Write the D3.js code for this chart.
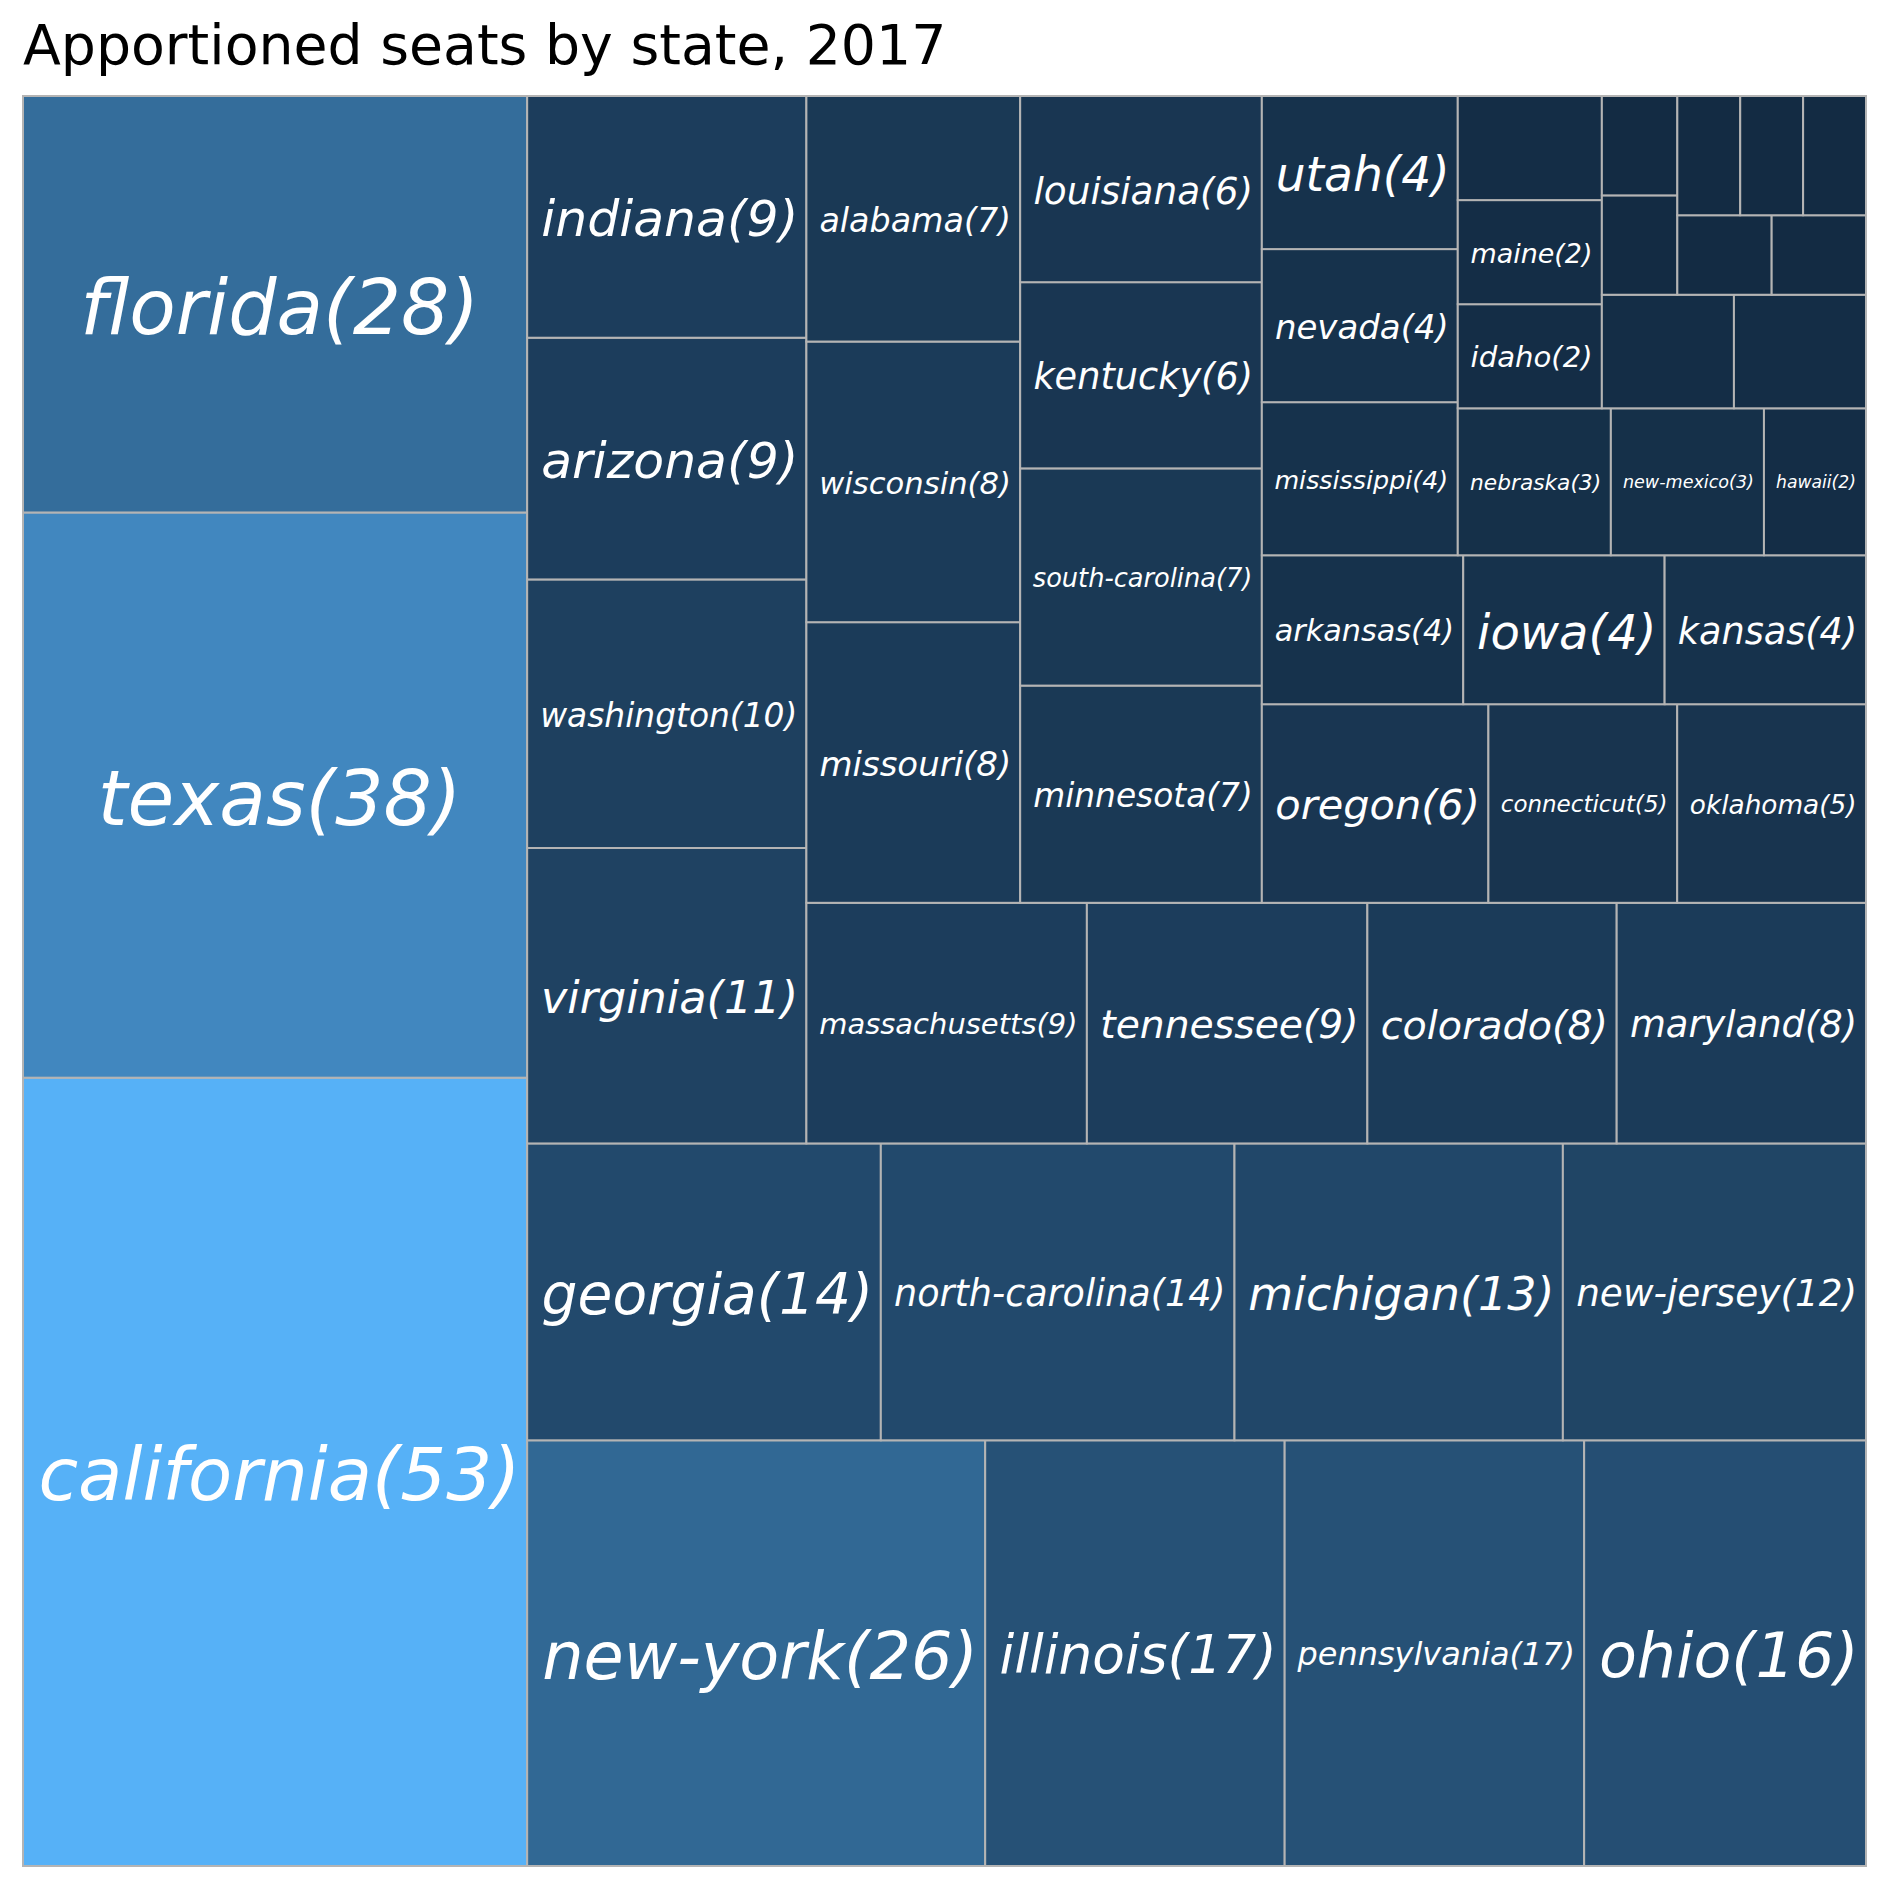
<!DOCTYPE html>
<html>
<head>
<meta charset="utf-8">
<script src="https://cdn.jsdelivr.net/npm/d3@7"></script>
<style>
  html, body { margin: 0; padding: 0; background: #ffffff; }
  svg { display: block; }
</style>
</head>
<body>
<script>
// ---------------- data ----------------
const title = "Apportioned seats by state, 2017";
const states = ["california","texas","florida","new-york","illinois","pennsylvania","ohio",
  "georgia","north-carolina","michigan","new-jersey","virginia","washington","arizona","indiana",
  "massachusetts","tennessee","colorado","maryland","missouri","wisconsin","alabama","minnesota",
  "south-carolina","kentucky","louisiana","oregon","connecticut","oklahoma","arkansas","iowa",
  "kansas","mississippi","nevada","utah","nebraska","new-mexico","hawaii","idaho","maine",
  "montana","new-hampshire","west-virginia","alaska","delaware","north-dakota","rhode-island",
  "south-dakota","vermont","wyoming"];
const seats = [53,38,28,26,17,17,16,14,14,13,12,11,10,9,9,9,9,8,8,8,8,7,7,7,6,6,6,5,5,
  4,4,4,4,4,4,3,3,2,2,2,2,2,2,1,1,1,1,1,1,1];
const labeledCount = 40; // only the first 40 rectangles carry a label

// ---------------- layout / style ----------------
const W = 1889, H = 1889;
const plot = { left: 23, right: 1866, top: 96, bottom: 1866 };
const maxFont = 76, textPad = 22;

const svg = d3.select("body").append("svg").attr("width", W).attr("height", H);

svg.append("text")
  .attr("x", 23).attr("y", 64)
  .attr("font-family", "DejaVu Sans")
  .attr("font-size", 55.3)
  .attr("fill", "#000")
  .text(title);

// squarify algorithm (same as python squarify) in a 100x100 data space
function layoutrow(sizes, x, y, dx, dy) {
  const covered = d3.sum(sizes), width = covered / dy; const rects = [];
  for (const s of sizes) { rects.push({x, y, dx: width, dy: s / width}); y += s / width; }
  return rects;
}
function layoutcol(sizes, x, y, dx, dy) {
  const covered = d3.sum(sizes), height = covered / dx; const rects = [];
  for (const s of sizes) { rects.push({x, y, dx: s / height, dy: height}); x += s / height; }
  return rects;
}
function layout(sizes, x, y, dx, dy) { return dx >= dy ? layoutrow(sizes, x, y, dx, dy) : layoutcol(sizes, x, y, dx, dy); }
function leftover(sizes, x, y, dx, dy) {
  const covered = d3.sum(sizes);
  if (dx >= dy) { const w = covered / dy; return [x + w, y, dx - w, dy]; }
  const h = covered / dx; return [x, y + h, dx, dy - h];
}
function worst(sizes, x, y, dx, dy) {
  return d3.max(layout(sizes, x, y, dx, dy), r => Math.max(r.dx / r.dy, r.dy / r.dx));
}
function squarify(sizes, x, y, dx, dy) {
  if (sizes.length === 0) return [];
  if (sizes.length === 1) return layout(sizes, x, y, dx, dy);
  let i = 1;
  while (i < sizes.length && worst(sizes.slice(0, i), x, y, dx, dy) >= worst(sizes.slice(0, i + 1), x, y, dx, dy)) i++;
  const cur = sizes.slice(0, i), rem = sizes.slice(i);
  const [lx, ly, ldx, ldy] = leftover(cur, x, y, dx, dy);
  return layout(cur, x, y, dx, dy).concat(squarify(rem, lx, ly, ldx, ldy));
}

const total = d3.sum(seats);
const norm = seats.map(v => v * 100 * 100 / total);
const rects = squarify(norm, 0, 0, 100, 100);

const xs = d3.scaleLinear().domain([0, 100]).range([plot.left, plot.right]);
const ys = d3.scaleLinear().domain([0, 100]).range([plot.bottom, plot.top]);
const color = d3.scaleLinear().domain([d3.min(seats), d3.max(seats)])
  .range(["#132B43", "#56B1F7"]).interpolate(d3.interpolateLab);

const data = rects.map((r, i) => ({
  name: states[i], value: seats[i],
  x0: xs(r.x), x1: xs(r.x + r.dx), y0: ys(r.y + r.dy), y1: ys(r.y)
}));

const g = svg.append("g");
g.selectAll("rect").data(data).join("rect")
  .attr("x", d => d.x0).attr("y", d => d.y0)
  .attr("width", d => d.x1 - d.x0).attr("height", d => d.y1 - d.y0)
  .attr("fill", d => color(d.value))
  .attr("stroke", "#b4b4b4").attr("stroke-width", 2);

const labels = svg.append("g").selectAll("text").data(data.slice(0, labeledCount)).join("text")
  .attr("x", d => (d.x0 + d.x1) / 2).attr("y", d => (d.y0 + d.y1) / 2)
  .attr("text-anchor", "middle").attr("dominant-baseline", "central")
  .attr("font-family", "DejaVu Sans").attr("font-style", "italic")
  .attr("fill", "#ffffff").attr("font-size", 100)
  .text(d => `${d.name}(${d.value})`);

labels.each(function(d) {
  const len = this.getComputedTextLength();
  const fs = Math.min(maxFont, 100 * (d.x1 - d.x0 - textPad) / len);
  d3.select(this).attr("font-size", fs).attr("dx", 0.06 * fs).attr("dy", 0.04 * fs);
});
</script>
</body>
</html>
